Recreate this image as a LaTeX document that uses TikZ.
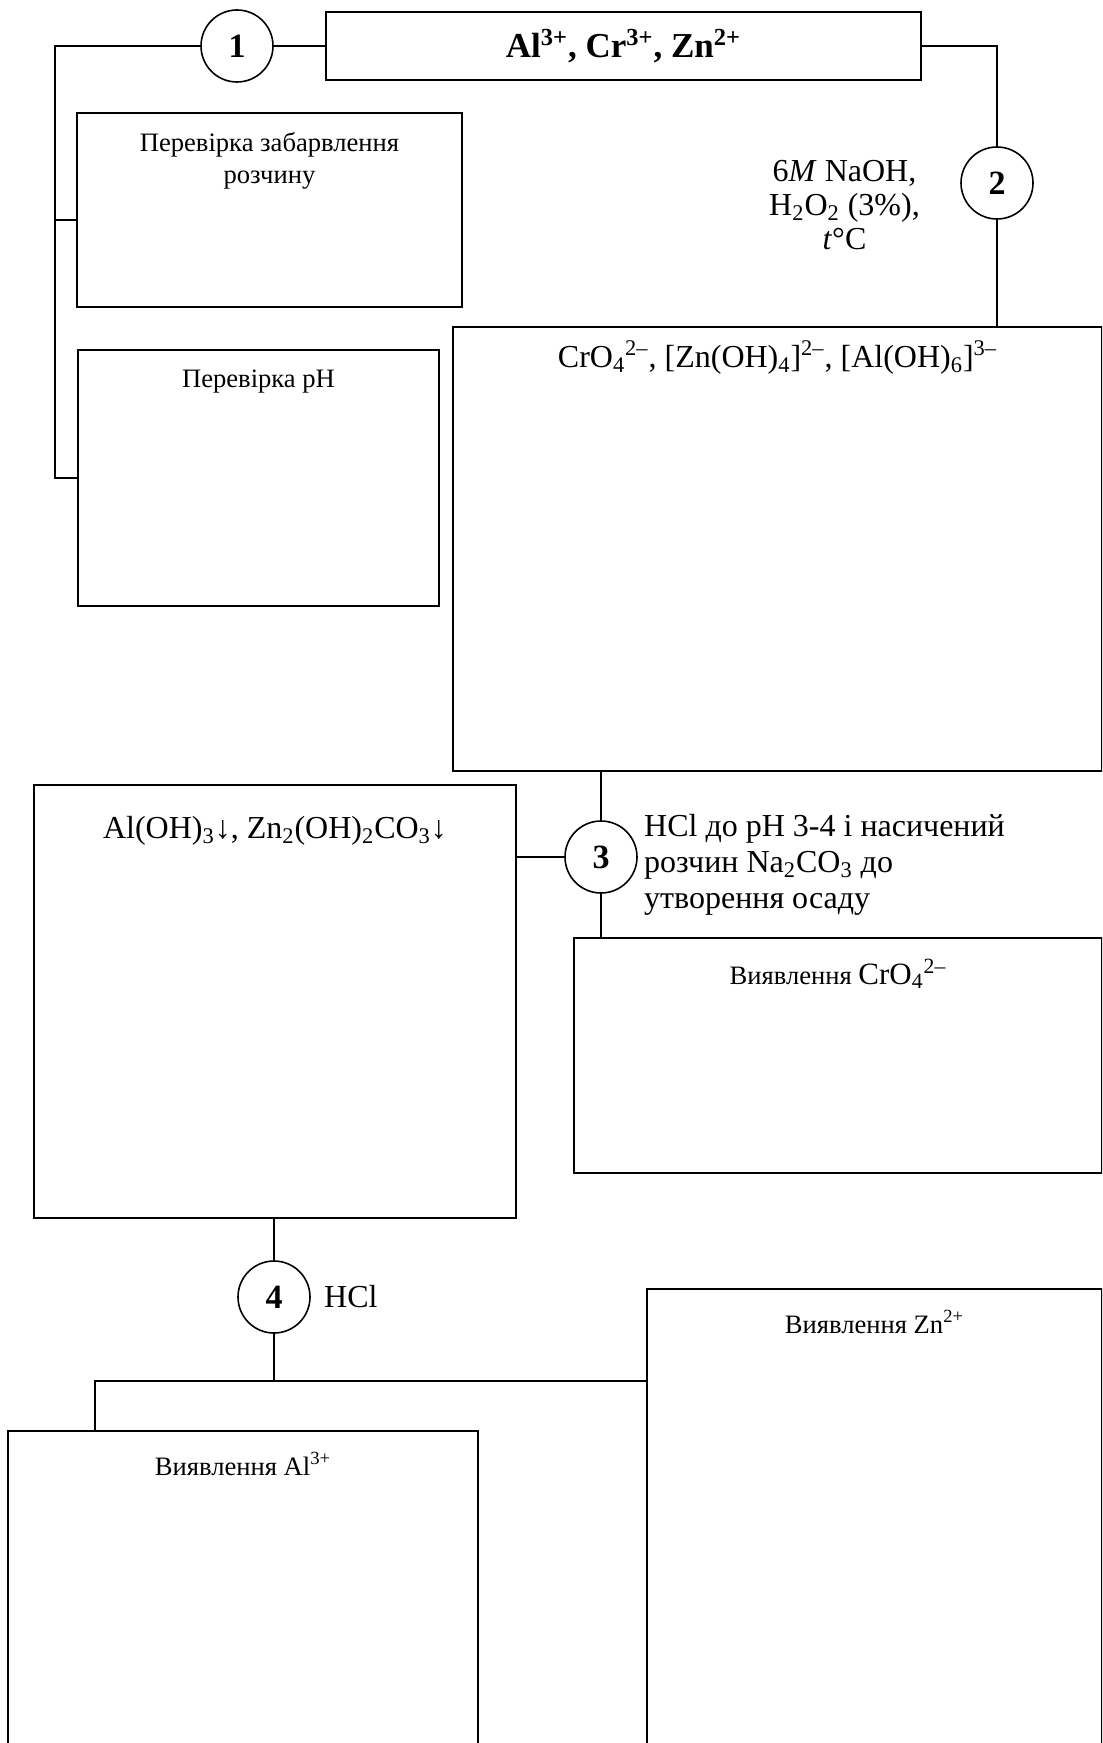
\documentclass[tikz,border=0pt]{standalone}
\usepackage{fontspec}
\setmainfont{Liberation Serif}
\usepackage{tikz}
\usetikzlibrary{positioning}

\tikzset{
  schbox/.style={draw, rectangle, line width=1pt, inner sep=0pt},
  stepcirc/.style={draw, circle, line width=0.8pt, minimum size=36pt, inner sep=0pt,
    font=\fontsize{17}{19}\selectfont\bfseries},
  wire/.style={line width=0.8pt},
  boxtext/.style={font=\fontsize{13.3}{16}\selectfont, align=center, inner sep=0pt},
  reagent/.style={font=\fontsize{16}{17}\selectfont, inner sep=0pt},
}

\begin{document}
\begin{tikzpicture}[x=0.5pt, y=-0.5pt]

  \useasboundingbox (0,0) rectangle (1102,1743);
  \clip (0,0) rectangle (1102,1743);

  % --- starting solution ---
  \node[schbox, minimum width=297.5pt, minimum height=34pt,
    font=\fontsize{17.5}{19}\selectfont\bfseries] (ions) at (623.5,46)
    {Al\textsuperscript{3+}, Cr\textsuperscript{3+}, Zn\textsuperscript{2+}};

  % --- step 1: preliminary tests ---
  \node[stepcirc] (c1) at (237,46) {1};
  \node[schbox, minimum width=192.5pt, minimum height=97pt] (chk1) at (269.5,210) {};
  \node[schbox, minimum width=180.5pt, minimum height=128pt] (chk2) at (258.5,478) {};
  \node[boxtext, below=10pt of chk1.north] (chk1t)
    {Перевірка забарвлення\\розчину};
  \node[boxtext, below=10pt of chk2.north] (chk2t) {Перевірка pH};

  \coordinate (tl) at (55,46);
  \coordinate (tb) at (55,478);
  \draw[wire] (ions.west) -- (c1.east);
  \draw[wire] (c1.west) -- (tl) -- (tb) -- (chk2.west);
  \draw[wire] (tl |- chk1.west) ++(0,10) -- ([yshift=-5pt]chk1.west);

  % --- step 2: alkaline oxidation ---
  \node[stepcirc] (c2) at (997,183) {2};
  \node[reagent, align=center, left=20pt of c2, yshift=-11pt] (r2)
    {6\textit{M} NaOH,\\H\textsubscript{2}O\textsubscript{2} (3\%),\\\textit{t}°C};
  \node[schbox, minimum width=324.5pt, minimum height=222pt] (mix) at (777.5,549) {};
  \node[boxtext, font=\fontsize{16}{18}\selectfont, below=7pt of mix.north] (mixt)
    {CrO\textsubscript{4}\textsuperscript{2--}, [Zn(OH)\textsubscript{4}]\textsuperscript{2--},
     [Al(OH)\textsubscript{6}]\textsuperscript{3--}};

  \draw[wire] (ions.east) -| (c2.north);
  \draw[wire] (c2.south) -- (c2.south |- mix.north);

  % --- step 3: precipitation ---
  \node[stepcirc] (c3) at (601,857) {3};
  \node[reagent, align=left, right=3pt of c3, yshift=-4pt, font=\fontsize{16}{18}\selectfont] (r3)
    {HCl до pH 3-4 і насичений\\розчин Na\textsubscript{2}CO\textsubscript{3} до\\утворення осаду};
  \node[schbox, minimum width=241pt, minimum height=216.5pt] (prec) at (275,1001.5) {};
  \node[boxtext, font=\fontsize{16}{18}\selectfont, below=16pt of prec.north] (prect)
    {Al(OH)\textsubscript{3}↓, Zn\textsubscript{2}(OH)\textsubscript{2}CO\textsubscript{3}↓};
  \node[schbox, minimum width=264pt, minimum height=117.5pt] (crdet) at (838,1055.5) {};
  \node[boxtext, below=11pt of crdet.north] (crdett)
    {Виявлення {\fontsize{15.5}{17}\selectfont CrO\textsubscript{4}\textsuperscript{2--}}};

  \draw[wire] (c3 |- mix.south) -- (c3.north);
  \draw[wire] (c3.south) -- (c3 |- crdet.north);
  \draw[wire] (c3.west) -- (c3.west -| prec.east);

  % --- step 4: dissolving the precipitate ---
  \node[stepcirc] (c4) at (274,1297) {4};
  \node[reagent, right=6.5pt of c4] (r4) {HCl};
  \node[schbox, minimum width=227.5pt, minimum height=255.5pt] (zndet) at (874.5,1544.5) {};
  \node[boxtext, below=11pt of zndet.north] (zndett) {Виявлення Zn\textsuperscript{2+}};
  \node[schbox, minimum width=235pt, minimum height=184.5pt] (aldet) at (243,1615.5) {};
  \node[boxtext, below=11pt of aldet.north] (aldett) {Виявлення Al\textsuperscript{3+}};

  \coordinate (split) at (274,1381);
  \coordinate (alin) at (95,1381);
  \draw[wire] (c4 |- prec.south) -- (c4.north);
  \draw[wire] (c4.south) -- (split);
  \draw[wire] (zndet.west |- split) -- (alin) -- (alin |- aldet.north);

\end{tikzpicture}
\end{document}
